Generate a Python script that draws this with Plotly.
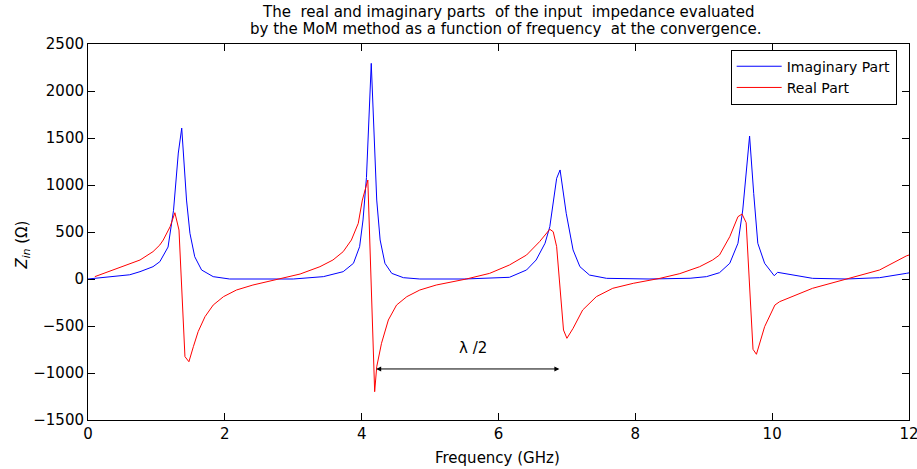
import plotly.graph_objects as go

# ---- data ----
imag_freq = [0.0, 0.37, 0.61, 0.76, 0.95, 1.05, 1.17, 1.25, 1.32, 1.37, 1.44, 1.49, 1.56, 1.66,
             1.83, 2.07, 2.5, 3.0, 3.44, 3.73, 3.88, 3.97, 4.02, 4.04, 4.07, 4.14, 4.22, 4.27,
             4.34, 4.44, 4.61, 4.85, 5.5, 6.16, 6.41, 6.55, 6.68, 6.75, 6.81, 6.85, 6.90, 6.94,
             6.99, 7.09, 7.19, 7.33, 7.58, 8.2, 8.8, 9.04, 9.13, 9.23, 9.38, 9.50, 9.57, 9.62,
             9.67, 9.73, 9.79, 9.89, 10.03, 10.08, 10.25, 10.59, 11.08, 11.57, 11.96, 12.0]
imag_vals = [0, 32, 45, 78, 131, 184, 340, 730, 1340, 1605, 840, 486, 237, 96,
             25, 0, 0, 0, 25, 78, 167, 344, 628, 840, 1080, 2294, 840, 415,
             167, 60, 14, 0, 0, 18, 96, 202, 380, 556, 840, 1071, 1160, 950,
             699, 309, 131, 42, 7, 0, 8, 25, 42, 67, 167, 380, 734, 1160,
             1521, 911, 380, 167, 35, 71, 50, 7, 0, 14, 60, 65]

real_freq = [0.1, 0.37, 0.47, 0.76, 0.95, 1.05, 1.1, 1.2, 1.27, 1.33, 1.417, 1.475, 1.54, 1.61,
             1.71, 1.83, 1.98, 2.17, 2.41, 2.80, 3.10, 3.39, 3.58, 3.73, 3.85, 3.95, 4.01, 4.09,
             4.19, 4.22, 4.29, 4.39, 4.51, 4.66, 4.85, 5.09, 5.53, 5.87, 6.16, 6.41, 6.60, 6.75,
             6.80, 6.85, 6.95, 7.0, 7.09, 7.23, 7.43, 7.67, 7.97, 8.36, 8.65, 8.94, 9.13, 9.23,
             9.38, 9.50, 9.56, 9.62, 9.72, 9.77, 9.89, 10.04, 10.11, 10.59, 11.13, 11.57, 11.96, 12.0]
real_vals = [25, 96, 120, 202, 291, 362, 415, 556, 705, 521, -826, -880, -720, -560,
             -401, -277, -188, -117, -64, 0, 53, 131, 202, 291, 415, 592, 840, 1053,
             -1199, -933, -684, -436, -277, -188, -117, -64, 0, 60, 149, 255, 397, 529,
             503, 344, -543, -631, -525, -330, -188, -99, -46, 7, 57, 131, 202, 255,
             450, 663, 691, 599, -748, -801, -507, -277, -241, -99, 7, 96, 245, 255]

x_ticks = [0, 2, 4, 6, 8, 10, 12]
y_ticks = [-1500, -1000, -500, 0, 500, 1000, 1500, 2000, 2500]

title_lines = ["The\u00a0 real and imaginary parts\u00a0 of the input\u00a0 impedance evaluated",
               "by the MoM method as a function of frequency\u00a0 at the convergence."]

# annotation: lambda/2 arrow between the two resonances
arrow_start = (4.19, -957)
arrow_end = (6.89, -957)
arrow_label = (5.63, -734)

FONT = "DejaVu Sans, Liberation Sans, Arial, sans-serif"

fig = go.Figure()
fig.add_trace(go.Scatter(x=imag_freq, y=imag_vals, mode="lines", name="Imaginary Part",
                         line=dict(color="#0000ff", width=1)))
fig.add_trace(go.Scatter(x=real_freq, y=real_vals, mode="lines", name="Real Part",
                         line=dict(color="#ff0000", width=1)))

axis_common = dict(showline=True, linecolor="black", linewidth=1, mirror="ticks",
                   ticks="inside", ticklen=7, tickcolor="black", tickwidth=1,
                   showgrid=False, zeroline=False, automargin=False,
                   ticklabeloverflow="allow",
                   tickfont=dict(family=FONT, size=15, color="black"))

fig.update_xaxes(range=[0, 12], tickvals=x_ticks, **axis_common)
fig.update_yaxes(range=[-1500, 2500], tickvals=y_ticks, **axis_common)

annotations = [
    dict(text=title_lines[0], x=0.511, y=1.086, xref="paper", yref="paper",
         showarrow=False, xanchor="center", yanchor="middle",
         font=dict(family=FONT, size=15, color="black")),
    dict(text=title_lines[1], x=0.509, y=1.040, xref="paper", yref="paper",
         showarrow=False, xanchor="center", yanchor="middle",
         font=dict(family=FONT, size=15, color="black")),
    dict(text="Frequency (GHz)", x=0.499, y=-0.101, xref="paper", yref="paper",
         showarrow=False, xanchor="center", yanchor="middle",
         font=dict(family=FONT, size=15, color="black")),
    dict(text="<i>Z</i><sub><i>in</i></sub> (Ω)", x=-0.080, y=0.465, xref="paper", yref="paper",
         showarrow=False, xanchor="center", yanchor="middle", textangle=-90,
         font=dict(family=FONT, size=15, color="black")),
    dict(text="", x=arrow_end[0], y=arrow_end[1], ax=arrow_start[0], ay=arrow_start[1],
         xref="x", yref="y", axref="x", ayref="y", showarrow=True,
         arrowhead=2, startarrowhead=2, arrowside="end+start", arrowsize=1,
         arrowwidth=1, arrowcolor="black"),
    dict(text="λ\u00a0/2", x=arrow_label[0], y=arrow_label[1], xref="x", yref="y",
         showarrow=False, font=dict(family=FONT, size=15, color="black")),
]

fig.update_layout(
    width=917, height=469,
    margin=dict(l=88, r=8, t=44, b=49, autoexpand=False),
    paper_bgcolor="white", plot_bgcolor="white",
    showlegend=True,
    legend=dict(x=0.985, y=0.985, xanchor="right", yanchor="top",
                bordercolor="black", borderwidth=1, bgcolor="white",
                font=dict(family=FONT, size=14, color="black"),
                tracegroupgap=0, itemwidth=45),
    annotations=annotations,
)

fig.write_html("out.html", config={"displayModeBar": False},
               post_script="document.body.style.margin='0';document.body.style.overflow='hidden';")
